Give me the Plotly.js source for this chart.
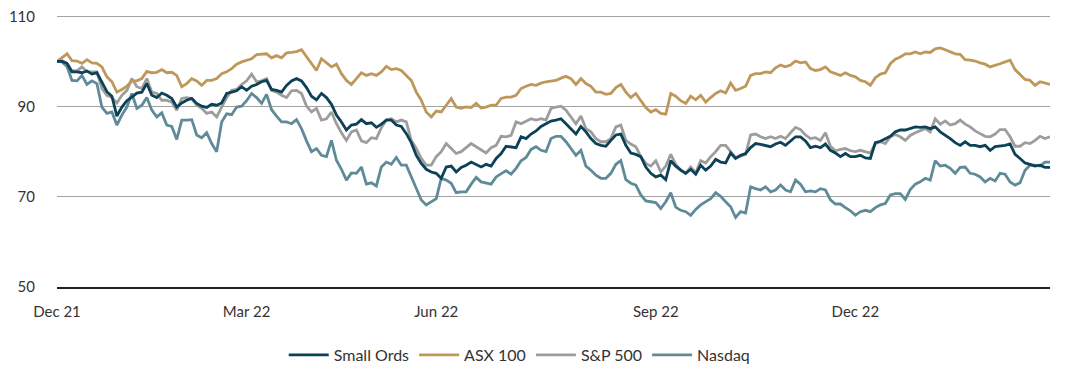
<!DOCTYPE html>
<html>
<head>
<meta charset="utf-8">
<script src="https://cdn.plot.ly/plotly-3.0.1.min.js"></script>
<style>
  html, body { margin: 0; padding: 0; background: #ffffff; }
  #chart { width: 1067px; height: 375px; }
</style>
</head>
<body>
<div id="chart"></div>
<script>
// Rebased index values (start = 100), sampled evenly across the period
const smallOrds = [
  100.0,100.0,99.6,97.7,97.7,97.5,97.9,97.2,97.5,95.5,93.3,92.3,87.9,89.9,91.3,92.1,93.0,93.2,95.1,92.5,92.0,93.0,92.5,91.8,89.9,90.8,91.4,91.8,90.7,90.1,89.8,90.5,90.3,90.8,
  92.9,93.2,93.5,94.4,93.6,94.5,94.9,95.5,95.8,93.8,93.6,93.2,94.7,95.7,96.2,95.7,94.2,92.3,91.5,92.9,92.0,90.5,88.1,86.6,84.8,85.9,86.1,87.1,86.2,86.4,85.4,86.1,87.0,
  87.0,85.9,85.6,84.0,82.0,79.2,77.4,76.1,75.5,75.2,74.1,76.6,76.8,75.5,76.5,77.0,77.7,77.2,76.6,77.2,76.8,78.5,79.6,81.2,81.1,80.9,83.3,82.9,83.9,84.6,85.6,86.2,86.8,
  87.0,87.3,86.2,85.1,83.9,85.6,84.4,82.9,81.8,81.4,81.2,82.5,83.7,83.9,81.4,79.7,79.4,78.9,76.6,75.2,74.4,74.8,73.8,78.0,76.8,75.9,75.2,76.1,75.0,77.0,75.9,76.8,78.3,
  77.7,77.5,79.7,78.5,79.2,79.6,80.9,81.8,81.6,81.4,81.1,81.7,82.1,81.4,82.4,83.3,83.3,82.4,80.9,81.2,80.9,81.7,80.3,79.7,78.9,79.6,78.9,78.9,79.2,78.6,78.5,82.0,82.3,
  82.9,83.4,84.4,84.8,84.8,85.1,85.5,85.4,85.5,85.1,85.5,84.4,83.7,82.9,82.0,81.4,82.2,81.4,81.4,81.1,81.4,80.3,81.1,81.2,81.4,81.7,79.4,78.5,77.5,77.2,76.8,77.0,76.5,76.5
];
const asx100 = [
  100.0,100.9,101.7,100.2,100.1,99.6,100.4,99.7,99.6,98.8,96.6,95.5,93.2,93.8,94.5,95.7,95.7,96.2,97.8,97.5,97.6,98.2,97.5,97.6,96.9,94.4,95.1,96.2,95.7,94.7,95.8,95.8,96.2,97.3,
  97.7,98.4,99.4,99.9,100.3,100.6,101.5,101.6,101.7,100.8,101.3,100.8,101.9,102.0,102.2,102.6,101.0,99.4,98.0,100.6,99.7,98.8,99.4,97.3,95.8,94.9,96.2,97.5,96.9,97.3,96.9,97.7,98.9,
  98.2,98.4,98.0,96.9,95.8,93.2,91.4,88.8,87.7,89.0,88.8,90.3,91.8,89.9,89.6,89.9,89.8,90.7,89.7,89.9,90.3,90.3,91.8,92.1,92.1,92.5,94.0,94.5,94.9,94.7,95.2,95.5,95.6,
  95.8,96.3,96.7,96.2,94.9,96.2,95.1,94.5,93.2,93.2,92.7,92.9,94.2,94.9,93.2,92.0,92.9,91.3,89.8,88.8,89.3,88.5,88.3,92.9,92.3,91.3,90.7,92.3,91.5,92.5,91.0,92.0,92.9,
  93.5,93.0,95.2,93.6,94.0,94.5,96.9,97.3,97.3,97.7,97.5,98.6,99.2,98.8,99.2,100.1,99.7,99.9,98.4,98.0,98.2,98.8,97.7,97.3,96.9,97.5,96.9,96.6,95.8,95.5,94.7,96.4,97.2,
  97.5,99.5,100.5,101.0,101.7,101.7,102.1,101.7,102.1,102.0,102.8,103.0,102.6,102.1,101.7,101.6,100.4,100.3,100.1,99.7,99.4,98.8,99.1,99.5,99.9,100.3,98.2,97.2,96.0,95.8,94.7,95.5,95.2,94.9
];
const sp500 = [
  100.0,100.2,99.5,98.0,97.9,98.8,97.7,97.7,97.7,94.0,92.5,92.0,90.8,92.5,93.6,96.2,94.4,94.0,96.2,93.2,92.9,91.4,91.4,91.0,89.2,91.8,92.0,91.8,90.3,89.6,88.5,88.8,87.7,89.9,
  92.0,93.6,93.8,94.9,95.7,97.2,95.5,95.7,96.2,93.6,93.2,92.5,92.0,93.5,93.6,92.9,90.1,88.8,89.6,87.0,87.3,88.8,86.2,84.2,82.5,84.4,84.8,82.4,82.0,83.1,82.9,85.3,87.1,
  87.3,86.6,87.0,86.6,82.5,80.7,78.5,77.0,77.0,78.9,80.0,81.8,80.7,79.6,80.0,80.9,81.8,81.1,80.3,79.7,80.9,81.4,83.4,83.3,83.6,86.6,86.2,86.8,87.3,87.0,87.3,87.0,89.6,
  89.9,90.1,89.2,87.7,86.2,87.9,85.1,84.4,82.9,82.2,82.2,82.9,85.5,85.9,82.5,81.7,81.1,78.9,77.4,76.8,78.0,75.5,76.8,79.4,77.2,75.9,75.2,76.6,75.3,78.0,77.5,78.9,80.0,
  81.4,81.4,80.0,78.7,79.0,79.4,83.7,83.9,83.3,82.9,83.3,82.9,83.4,82.9,84.2,85.4,84.9,83.7,82.9,83.1,82.5,84.2,81.2,80.2,80.5,80.7,80.2,80.0,80.3,80.0,79.7,81.8,82.2,
  81.8,83.3,83.8,83.3,82.5,83.6,84.2,84.6,85.1,84.4,87.3,86.1,86.8,85.9,86.2,87.0,86.1,85.5,84.6,84.0,83.4,83.3,83.9,84.9,84.9,83.3,81.2,81.2,82.0,81.8,82.5,83.4,82.9,83.3
];
const nasdaq = [
  100.0,99.9,98.9,95.8,95.7,96.9,94.9,95.7,95.1,89.9,88.5,88.8,85.9,88.1,89.9,92.9,89.6,90.3,92.0,89.2,87.7,88.6,85.9,85.6,82.7,87.0,87.0,87.1,83.7,83.1,84.2,81.8,80.0,86.6,
  88.4,88.2,89.9,90.1,91.3,92.9,92.0,90.7,92.7,89.3,87.9,86.6,86.6,86.2,87.1,85.1,82.4,80.0,80.7,79.2,78.9,82.5,78.1,76.1,73.7,75.3,75.2,76.6,72.8,73.1,72.4,76.6,77.7,
  77.2,78.7,77.0,77.0,74.4,71.5,69.3,68.2,68.9,69.6,74.1,73.7,73.0,70.9,71.1,71.1,72.8,74.3,73.3,73.0,72.8,74.4,75.2,75.8,75.0,76.3,78.0,78.7,80.5,81.1,80.3,80.0,82.9,
  83.4,83.4,82.2,80.7,79.2,80.3,76.8,75.9,74.8,74.1,74.1,75.2,77.2,78.0,73.8,73.0,72.6,70.4,69.1,68.9,68.7,67.4,68.9,70.9,67.7,67.0,66.7,65.9,67.2,68.2,68.9,69.6,70.9,
  70.1,68.9,67.8,65.4,66.7,66.4,72.2,71.8,71.5,72.2,71.1,71.5,72.6,71.5,71.1,73.7,72.8,71.1,71.3,71.1,71.8,71.5,69.3,68.4,68.4,67.6,66.9,65.9,66.7,67.0,66.7,67.6,68.2,
  68.5,70.4,70.7,70.7,69.4,71.6,72.8,73.3,74.1,73.7,78.0,76.8,77.0,76.3,75.2,76.5,76.6,75.2,75.0,74.4,73.3,74.1,73.5,75.2,75.0,73.3,72.6,73.1,75.9,77.0,77.0,76.8,77.7,77.7
];
// Axis labels: observation index at which each month label falls
const tickIdx = [0, 38, 76, 120, 160];
const tickLabels = ["Dec 21", "Mar 22", "Jun 22", "Sep 22", "Dec 22"];
const seriesNames = ["Small Ords", "ASX 100", "S&P 500", "Nasdaq"];
const yTicks = [50, 70, 90, 110];

const colors = {
  "Small Ords": "#0b4257",
  "ASX 100": "#bf975a",
  "S&P 500": "#9d9d9d",
  "Nasdaq": "#5f8b99"
};
const values = {
  "Small Ords": smallOrds,
  "ASX 100": asx100,
  "S&P 500": sp500,
  "Nasdaq": nasdaq
};
const drawOrder = ["Nasdaq", "S&P 500", "ASX 100", "Small Ords"];

const traces = drawOrder.map(name => ({
  type: "scatter",
  mode: "lines",
  name: name,
  y: values[name],
  line: { color: colors[name], width: 2.8, shape: "linear" },
  legendrank: seriesNames.indexOf(name) + 1,
  hoverinfo: "skip"
}));

const layout = {
  width: 1067,
  height: 375,
  margin: { l: 57, r: 17, t: 15, b: 88, autoexpand: false },
  paper_bgcolor: "#ffffff",
  plot_bgcolor: "#ffffff",
  font: { family: "Lato, 'Open Sans', sans-serif", size: 15, color: "#333333" },
  showlegend: true,
  legend: {
    orientation: "h",
    x: 0.466, xanchor: "center",
    y: -0.25, yanchor: "middle",
    font: { size: 16, color: "#333333" },
    itemwidth: 40,
    traceorder: "normal"
  },
  xaxis: {
    range: [0, 199],
    tickmode: "array",
    tickvals: tickIdx,
    ticktext: tickLabels,
    showgrid: false,
    zeroline: false,
    showline: true,
    linecolor: "#222222",
    linewidth: 1.5,
    ticks: "outside",
    ticklen: 10,
    tickcolor: "rgba(0,0,0,0)",
    tickfont: { size: 15, color: "#333333" },
    fixedrange: true
  },
  yaxis: {
    range: [50, 110.3],
    tickmode: "array",
    tickvals: yTicks,
    ticktext: yTicks.map(String),
    showgrid: true,
    gridcolor: "#a3a3a3",
    gridwidth: 1,
    zeroline: false,
    showline: false,
    ticks: "outside",
    ticklen: 18,
    tickcolor: "rgba(0,0,0,0)",
    tickfont: { size: 15, color: "#333333" },
    fixedrange: true
  }
};

Plotly.newPlot("chart", traces, layout, { displayModeBar: false, staticPlot: true });
</script>
</body>
</html>
